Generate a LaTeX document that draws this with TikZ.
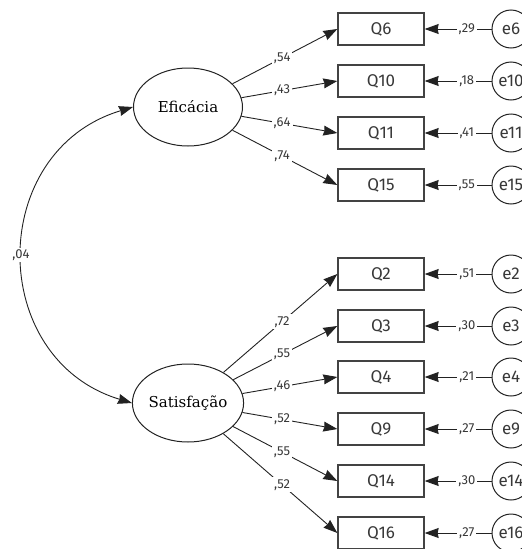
\documentclass[tikz,border=0pt]{standalone}
\usepackage{fontspec}
\setmainfont{Fira Sans}
\newfontfamily\latentfont{DejaVu Serif}
\usepackage{tikz}
\usetikzlibrary{calc,shapes.geometric,arrows.meta}
\definecolor{ink}{HTML}{222222}
\tikzstyle{arrow} = [draw=ink, line width=0.9pt, -{Stealth[length=14pt,width=10pt,inset=1pt]}]

\begin{document}
\begin{tikzpicture}[x=1pt,y=-1pt]
    \tikzstyle{latent}=[ellipse,draw=ink,line width=1pt,minimum width=109pt,minimum height=78pt,inner sep=0pt,font=\latentfont\fontsize{15}{18}\selectfont]
    \tikzstyle{item}=[rectangle,draw=ink!85,line width=1.3pt,minimum width=86pt,minimum height=32pt,inner sep=0pt,text=ink!90,font=\fontsize{17}{20}\selectfont]
    \tikzstyle{error}=[circle,draw=ink,line width=1pt,minimum size=38pt,inner sep=0pt,text=ink!90,font=\fontsize{17}{20}\selectfont]
    \tikzstyle{coef}=[fill=white,inner sep=2pt,text=ink!90,font=\fontsize{13}{15}\selectfont]

    \path[use as bounding box, clip] (0,0) rectangle (522,549);

    % Draw the latent factors
    \node[latent] (Efic) at (188,107) {Eficácia};
    \node[latent] (Sat) at (188,403) {Satisfação};

    % Draw the items of the first factor and their errors
    \foreach \name / \y / \lam / \err in {6/29/54/29, 10/81/43/18, 11/133/64/41, 15/185/74/55} {
        \node[item] (Q-\name) at (381,\y) {Q\name};
        \node[error] (e-\name) at (511,\y) {e\name};
        \draw[arrow] (Efic) -- (Q-\name.west);
        \node[coef] at ($(Efic)!0.63!(Q-\name.west)$) {,\lam};
        \draw[arrow] (e-\name) -- (Q-\name.east) node[coef,pos=0.37] {,\err};
    }

    % Draw the items of the second factor and their errors
    \foreach \name / \y / \lam / \err in {2/274/72/51, 3/326/55/30, 4/377/46/21, 9/429/52/27, 14/481/55/30, 16/533/52/27} {
        \node[item] (Q-\name) at (381,\y) {Q\name};
        \node[error] (e-\name) at (511,\y) {e\name};
        \draw[arrow] (Sat) -- (Q-\name.west);
        \node[coef] at ($(Sat)!0.63!(Q-\name.west)$) {,\lam};
        \draw[arrow] (e-\name) -- (Q-\name.east) node[coef,pos=0.37] {,\err};
    }

    % Correlation between the factors
    \draw[arrow, {Stealth[length=14pt,width=10pt,inset=1pt]}-{Stealth[length=14pt,width=10pt,inset=1pt]}]
        (Efic.west) .. controls (-13.5,151) and (-13.5,359) .. (Sat.west)
        node[coef,pos=0.5,xshift=-2pt] {,04};
\end{tikzpicture}
\end{document}
